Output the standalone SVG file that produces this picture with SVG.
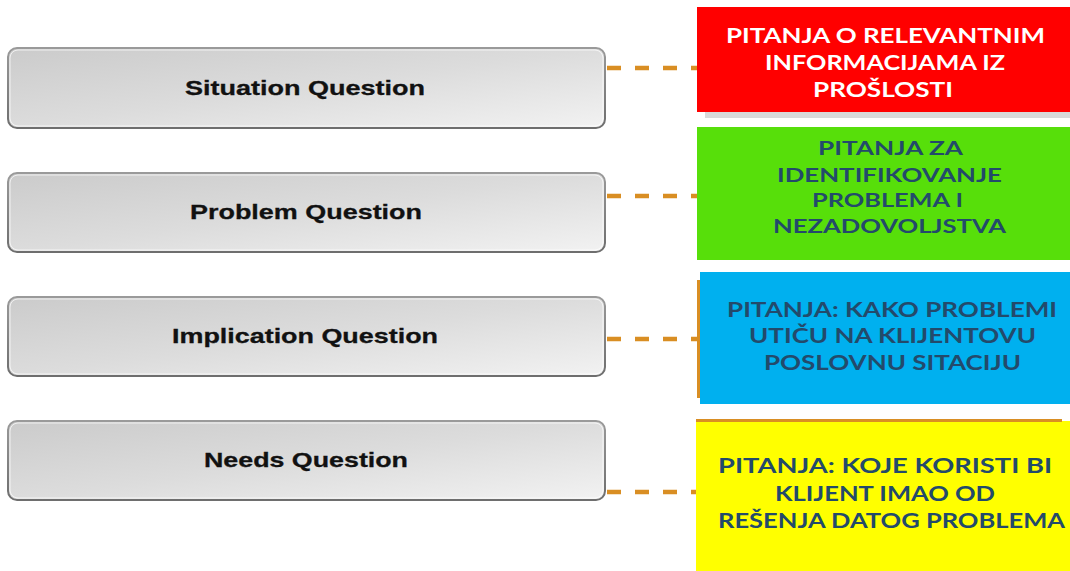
<svg xmlns="http://www.w3.org/2000/svg" width="1070" height="571" viewBox="0 0 1070 571">
  <defs>
    <linearGradient id="btnFill" x1="0" y1="0" x2="1" y2="1">
      <stop offset="0" stop-color="#cbcbcb"/>
      <stop offset="0.5" stop-color="#dcdcdc"/>
      <stop offset="1" stop-color="#f2f2f2"/>
    </linearGradient>
    <linearGradient id="btnEdge" x1="0" y1="0" x2="0" y2="1">
      <stop offset="0" stop-color="#9a9a9a"/>
      <stop offset="1" stop-color="#6e6e6e"/>
    </linearGradient>
  </defs>
  <style>
    .btn { fill: url(#btnFill); stroke: url(#btnEdge); stroke-width: 2; }
    .btn-hi { fill: none; stroke: #ffffff; stroke-opacity: 0.7; stroke-width: 1; }
    .btn-label { font-family: "Liberation Sans", Arial, sans-serif; font-weight: bold; font-size: 21px; fill: #111111; stroke: #111111; stroke-width: 0.3; }
    .card-label { font-family: Lato, "Open Sans", sans-serif; font-weight: bold; font-size: 21px; }
    .small { font-size: 18px; }
    .dark { fill: #234a6b; }
    .light { fill: #ffffff; }
    .link { stroke: #d98e23; stroke-width: 4.5; stroke-dasharray: 14 14; fill: none; }
    .accent { stroke: #d98e23; stroke-width: 3; fill: none; }
  </style>

  <rect width="1070" height="571" fill="#ffffff"/>

  <!-- dashed links between question types and descriptions -->
  <g id="connectors">
    <line class="link" x1="607" y1="68" x2="698" y2="68"/>
    <line class="link" x1="607" y1="196" x2="698" y2="196"/>
    <line class="link" x1="607" y1="339" x2="698" y2="339"/>
    <line class="link" x1="607" y1="492" x2="698" y2="492"/>
  </g>

  <!-- question type buttons -->
  <g id="situation-question">
    <rect class="btn" x="8" y="48" width="597" height="80" rx="9"/>
    <rect class="btn-hi" x="10" y="50" width="593" height="76" rx="8"/>
    <text class="btn-label" x="185" y="95" textLength="240" lengthAdjust="spacingAndGlyphs">Situation Question</text>
  </g>
  <g id="problem-question">
    <rect class="btn" x="8" y="173" width="597" height="79" rx="9"/>
    <rect class="btn-hi" x="10" y="175" width="593" height="75" rx="8"/>
    <text class="btn-label" x="190" y="219" textLength="232" lengthAdjust="spacingAndGlyphs">Problem Question</text>
  </g>
  <g id="implication-question">
    <rect class="btn" x="8" y="297" width="597" height="79" rx="9"/>
    <rect class="btn-hi" x="10" y="299" width="593" height="75" rx="8"/>
    <text class="btn-label" x="172" y="343" textLength="266" lengthAdjust="spacingAndGlyphs">Implication Question</text>
  </g>
  <g id="needs-question">
    <rect class="btn" x="8" y="421" width="597" height="79" rx="9"/>
    <rect class="btn-hi" x="10" y="423" width="593" height="75" rx="8"/>
    <text class="btn-label" x="204" y="467" textLength="204" lengthAdjust="spacingAndGlyphs">Needs Question</text>
  </g>

  <!-- description cards -->
  <g id="situation-card">
    <rect x="705" y="112" width="365" height="6" fill="#d9d9d9"/>
    <rect x="697" y="7" width="373" height="105" fill="#ff0000"/>
    <g class="card-label light">
      <text x="726" y="43" textLength="319" lengthAdjust="spacingAndGlyphs">PITANJA O RELEVANTNIM</text>
      <text x="765" y="70" textLength="240" lengthAdjust="spacingAndGlyphs">INFORMACIJAMA IZ</text>
      <text x="813" y="97" textLength="140" lengthAdjust="spacingAndGlyphs">PROŠLOSTI</text>
    </g>
  </g>
  <g id="problem-card">
    <rect x="697" y="127" width="373" height="133" fill="#57df0a"/>
    <g class="card-label small dark">
      <text x="818" y="155" textLength="145" lengthAdjust="spacingAndGlyphs">PITANJA ZA</text>
      <text x="777" y="182" textLength="225" lengthAdjust="spacingAndGlyphs">IDENTIFIKOVANJE</text>
      <text x="812" y="207" textLength="151" lengthAdjust="spacingAndGlyphs">PROBLEMA I</text>
      <text x="773" y="233" textLength="233" lengthAdjust="spacingAndGlyphs">NEZADOVOLJSTVA</text>
    </g>
  </g>
  <g id="implication-card">
    <rect x="700" y="272" width="370" height="132" fill="#00b0ef"/>
    <line class="accent" x1="698.5" y1="280" x2="698.5" y2="398"/>
    <g class="card-label dark">
      <text x="727" y="317" textLength="330" lengthAdjust="spacingAndGlyphs">PITANJA: KAKO PROBLEMI</text>
      <text x="749" y="343" textLength="287" lengthAdjust="spacingAndGlyphs">UTIČU NA KLIJENTOVU</text>
      <text x="764" y="370" textLength="257" lengthAdjust="spacingAndGlyphs">POSLOVNU SITACIJU</text>
    </g>
  </g>
  <g id="needs-card">
    <rect x="696" y="421" width="374" height="150" fill="#ffff00"/>
    <line class="accent" x1="696" y1="420.5" x2="1062" y2="420.5"/>
    <g class="card-label dark">
      <text x="718" y="473" textLength="334" lengthAdjust="spacingAndGlyphs">PITANJA: KOJE KORISTI BI</text>
      <text x="775" y="501" textLength="220" lengthAdjust="spacingAndGlyphs">KLIJENT IMAO OD</text>
      <text x="718" y="528" textLength="347" lengthAdjust="spacingAndGlyphs">REŠENJA DATOG PROBLEMA</text>
    </g>
  </g>
</svg>
